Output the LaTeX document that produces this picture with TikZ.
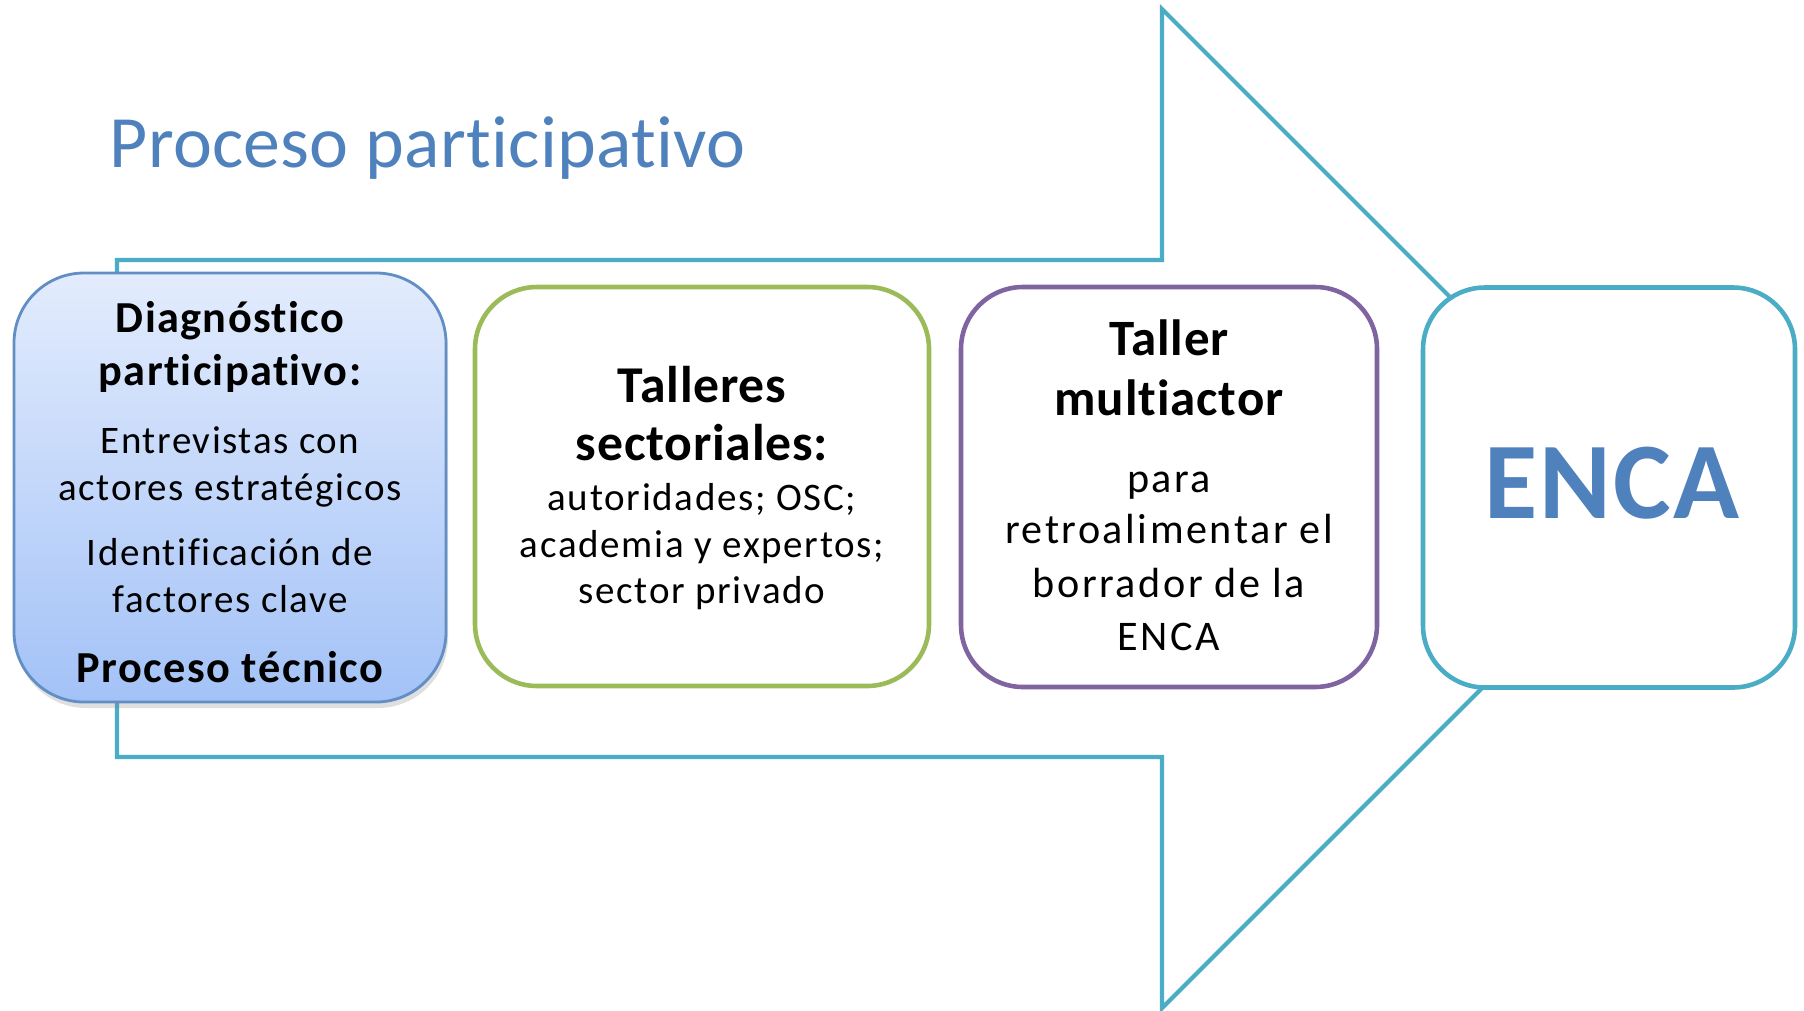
\documentclass[tikz,border=0pt]{standalone}
\usepackage{fontspec}
\setmainfont{Carlito}[Ligatures=CommonOff]
\usepackage{xcolor}
\usetikzlibrary{shadows}
\definecolor{azulT}{HTML}{4F81BD}
\definecolor{turq}{HTML}{4BACC6}
\definecolor{verde}{HTML}{9BBB59}
\definecolor{morado}{HTML}{8064A2}
\definecolor{celesteA}{HTML}{E3ECFD}
\definecolor{celesteB}{HTML}{A3C2F7}

\begin{document}
\begin{tikzpicture}[
  caja/.style={rounded corners=0.62cm, line width=1.3pt, fill=white},
  cab/.style 2 args={anchor=base, inner sep=0pt, font=\fontsize{#1}{#1}\selectfont\bfseries\addfontfeature{LetterSpace=#2}},
  txt/.style 2 args={anchor=base, inner sep=0pt, font=\fontsize{#1}{#1}\selectfont\addfontfeature{LetterSpace=#2}}
]
\useasboundingbox (0,0) rectangle (18.04,-10.10);

% flecha de fondo
\draw[turq, line width=1.2pt] (1.17,-2.60) -- (11.62,-2.60) -- (11.62,-0.09) -- (16.615,-5.085)
	-- (11.62,-10.08) -- (11.62,-7.57) -- (1.17,-7.57) -- cycle;

\node[txt={21pt}{0.4}, anchor=base west, text=azulT](Tit) at (1.09,-1.67) {Proceso participativo};

% cajas
\node[caja, rounded corners=0.7cm, line width=0.8pt, draw=azulT!90, top color=celesteA, bottom color=celesteB,
	drop shadow={shadow xshift=0.02cm, shadow yshift=-0.06cm, opacity=0.25},
	minimum width=4.32cm, minimum height=4.29cm](Diag) at (2.30,-4.875) {};
\node[caja, draw=verde, minimum width=4.54cm, minimum height=3.99cm](Tall) at (7.02,-4.865) {};
\node[caja, draw=morado, minimum width=4.16cm, minimum height=4.00cm](Mult) at (11.69,-4.87) {};
\node[caja, draw=turq, minimum width=3.72cm, minimum height=4.00cm](Enca) at (16.09,-4.875) {};

\node[cab={12.6pt}{3}](Diag1) at (2.30,-3.32) {Diagnóstico};
\node[cab={12.6pt}{3}](Diag2) at (2.30,-3.85) {participativo:};
\node[txt={11.1pt}{4}](Diag3) at (2.30,-4.53) {Entrevistas con};
\node[txt={11.1pt}{4}](Diag4) at (2.30,-5.00) {actores estratégicos};
\node[txt={11.1pt}{4}](Diag5) at (2.30,-5.65) {Identificación de};
\node[txt={11.1pt}{4}](Diag6) at (2.30,-6.12) {factores clave};
\node[cab={12.6pt}{3.5}](Diag7) at (2.30,-6.82) {Proceso técnico};

\node[cab={14.7pt}{1.5}](Tall1) at (7.02,-4.02) {Talleres};
\node[cab={14.7pt}{1.5}](Tall2) at (7.02,-4.60) {sectoriales:};
\node[txt={11.1pt}{4.3}](Tall3) at (7.02,-5.10) {autoridades; OSC;};
\node[txt={11.1pt}{4.3}](Tall4) at (7.02,-5.57) {academia y expertos;};
\node[txt={11.1pt}{4.3}](Tall5) at (7.02,-6.03) {sector privado};

\node[cab={14.5pt}{1.8}](Mult1) at (11.69,-3.55) {Taller};
\node[cab={14.5pt}{1.8}](Mult2) at (11.69,-4.15) {multiactor};
\node[txt={12pt}{6}](Mult3) at (11.69,-4.92) {para};
\node[txt={12pt}{6}](Mult4) at (11.69,-5.43) {retroalimentar el};
\node[txt={12pt}{6}](Mult5) at (11.69,-5.97) {borrador de la};
\node[txt={12pt}{6}](Mult6) at (11.69,-6.50) {ENCA};

\node[cab={31pt}{2}, text=azulT](Enca1) at (16.12,-5.18) {ENCA};
\end{tikzpicture}
\end{document}
